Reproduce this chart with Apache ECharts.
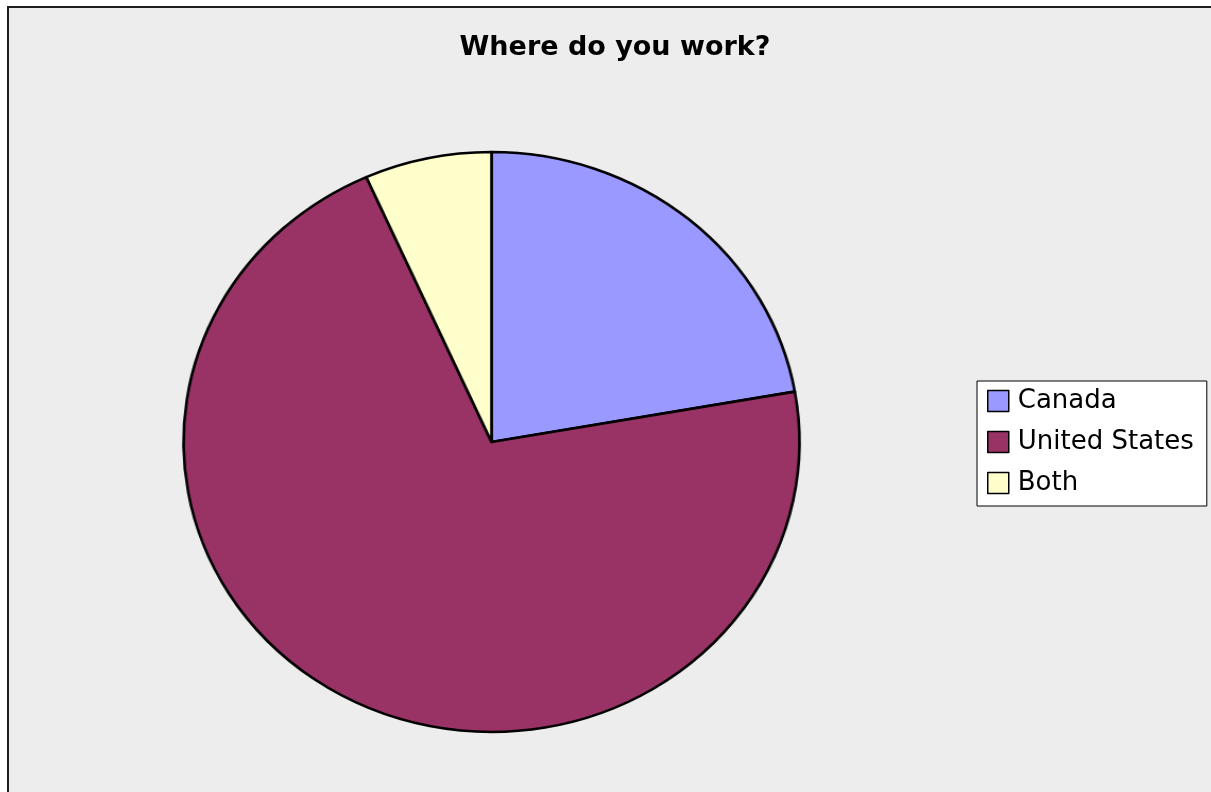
<!DOCTYPE html>
<html>
<head>
<meta charset="utf-8">
<script src="https://cdn.jsdelivr.net/npm/echarts@6/dist/echarts.min.js"></script>
<style>
  html, body { margin: 0; padding: 0; background: #ffffff; overflow: hidden; }
  #bg { position: absolute; left: 0; top: 0; width: 1211px; height: 792px; }
  #pie { position: absolute; left: 0; top: 0; width: 1211px; height: 792px;
         transform-origin: 491.5px 442px; transform: scaleX(1.062); pointer-events: none; }
</style>
</head>
<body>
<div id="bg"></div>
<div id="pie"></div>
<script>
const titleText = 'Where do you work?';
const categories = ['Canada', 'United States', 'Both'];
const counts = [10, 32, 3];
const colors = ['#9999ff', '#993366', '#ffffcc'];

const pieData = categories.map((name, i) => ({
  name: name,
  value: counts[i],
  itemStyle: { color: colors[i] }
}));

const bg = echarts.init(document.getElementById('bg'), null, { renderer: 'canvas' });
bg.setOption({
  animation: false,
  backgroundColor: '#ffffff',
  graphic: [{
    type: 'rect',
    shape: { x: 8, y: 7, width: 1400, height: 1000 },
    style: { fill: '#ededed', stroke: '#1e1e1e', lineWidth: 2 },
    silent: true,
    z: -10
  }],
  title: {
    text: titleText,
    left: 615,
    top: 34,
    padding: 0,
    textAlign: 'center',
    textStyle: { fontFamily: 'DejaVu Sans', fontWeight: 'bold', fontSize: 27, color: '#000000' }
  },
  legend: {
    orient: 'vertical',
    left: 977,
    top: 381,
    padding: [7, 13, 10, 10],
    itemGap: 15,
    itemWidth: 21,
    itemHeight: 21,
    icon: 'rect',
    backgroundColor: '#ffffff',
    borderColor: '#000000',
    borderWidth: 1,
    borderRadius: 0,
    selectedMode: false,
    itemStyle: { borderColor: '#000000', borderWidth: 1.5 },
    textStyle: { fontFamily: 'DejaVu Sans', fontSize: 26, color: '#000000', padding: [0, 0, 0, 4] },
    data: categories
  },
  series: [{
    type: 'pie',
    center: [-500, -500],
    radius: 5,
    silent: true,
    label: { show: false },
    labelLine: { show: false },
    itemStyle: { borderColor: '#000000', borderWidth: 1.5 },
    data: pieData
  }]
});

const pie = echarts.init(document.getElementById('pie'), null, { renderer: 'canvas' });
pie.setOption({
  animation: false,
  backgroundColor: 'transparent',
  series: [{
    type: 'pie',
    center: [491.5, 442],
    radius: 290,
    startAngle: 90,
    clockwise: true,
    silent: true,
    label: { show: false },
    labelLine: { show: false },
    emphasis: { disabled: true },
    itemStyle: { borderColor: '#000000', borderWidth: 2.6 },
    data: pieData
  }]
});
</script>
</body>
</html>
